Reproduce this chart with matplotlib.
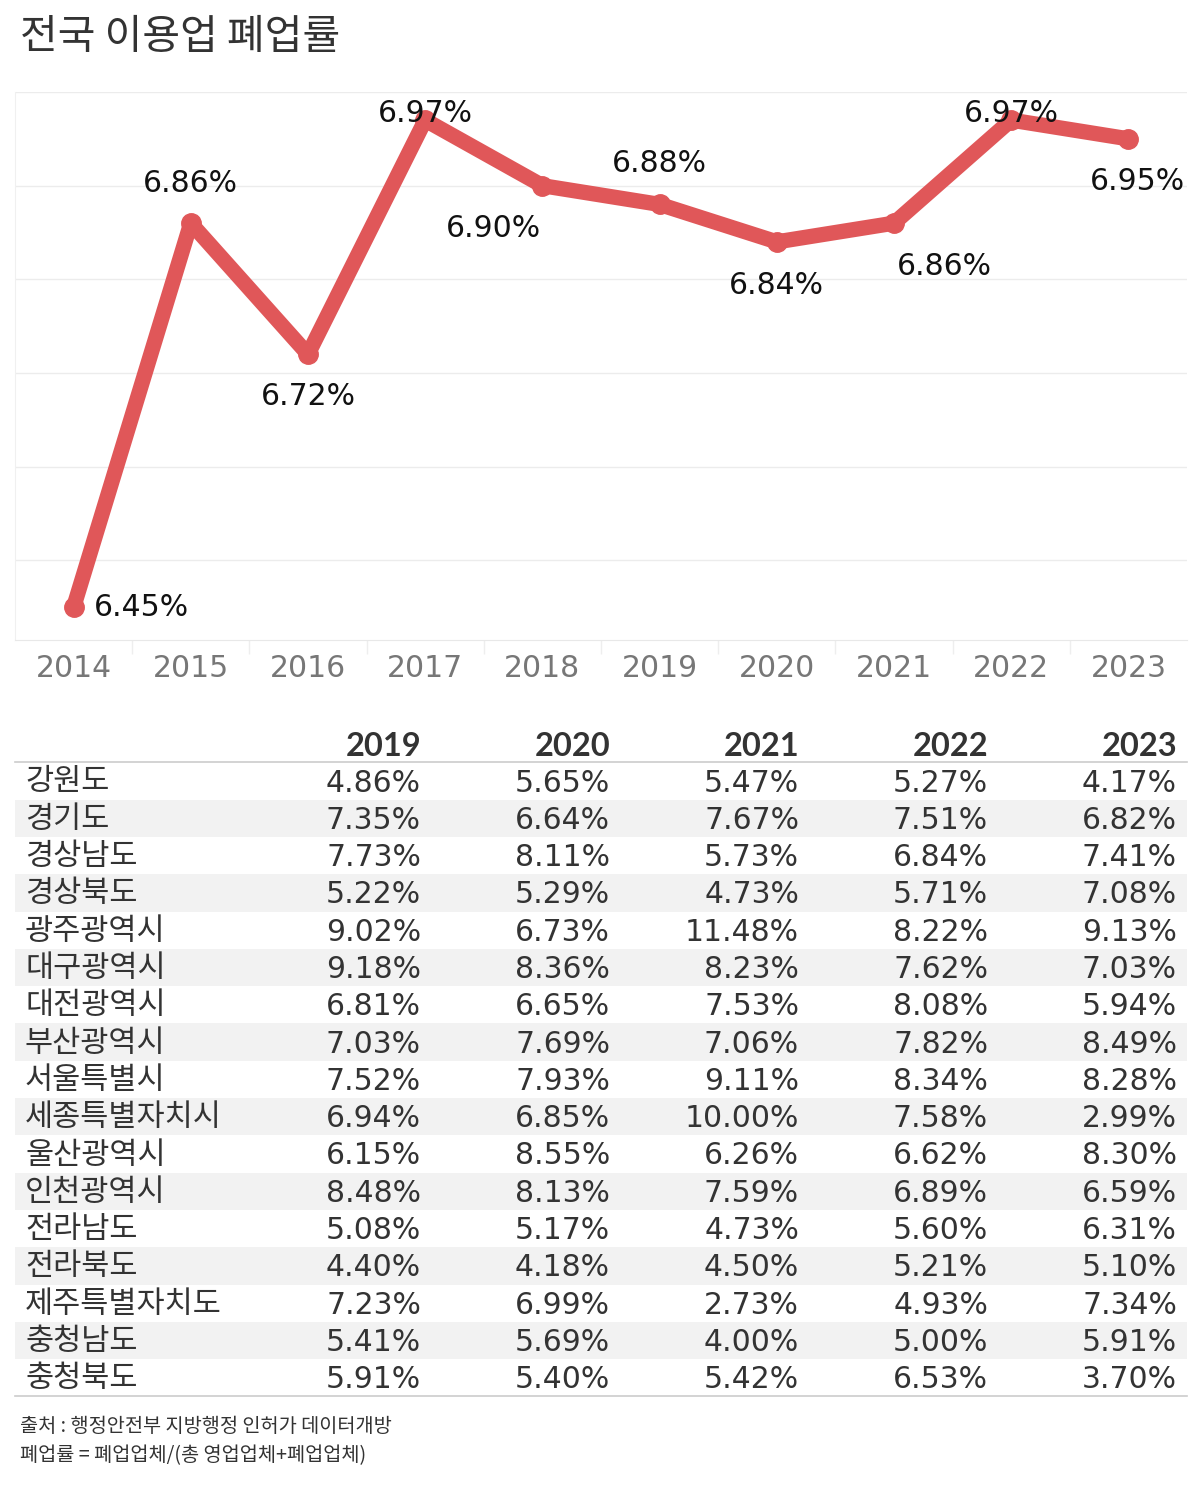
import matplotlib
matplotlib.use('Agg')
import matplotlib.pyplot as plt

plt.rcParams['font.family'] = ['DejaVu Sans', 'Noto Sans CJK KR']

# line chart data
years = [2014, 2015, 2016, 2017, 2018, 2019, 2020, 2021, 2022, 2023]
rates = [6.45, 6.86, 6.72, 6.97, 6.90, 6.88, 6.84, 6.86, 6.97, 6.95]
# label offsets in pixels (dx, dy, ha)
label_pos = [(20, 0, 'left'), (0, 40, 'center'), (0, -42, 'center'), (0, 7, 'center'),
             (-49, -43, 'center'), (0, 41, 'center'), (0, -44, 'center'), (50, -43, 'center'),
             (0, 7, 'center'), (9, -43, 'center')]

# table data
tbl_years = ['2019', '2020', '2021', '2022', '2023']
regions = ['강원도', '경기도', '경상남도', '경상북도', '광주광역시', '대구광역시', '대전광역시',
           '부산광역시', '서울특별시', '세종특별자치시', '울산광역시', '인천광역시', '전라남도',
           '전라북도', '제주특별자치도', '충청남도', '충청북도']
v2019 = [4.86, 7.35, 7.73, 5.22, 9.02, 9.18, 6.81, 7.03, 7.52, 6.94, 6.15, 8.48, 5.08, 4.40, 7.23, 5.41, 5.91]
v2020 = [5.65, 6.64, 8.11, 5.29, 6.73, 8.36, 6.65, 7.69, 7.93, 6.85, 8.55, 8.13, 5.17, 4.18, 6.99, 5.69, 5.40]
v2021 = [5.47, 7.67, 5.73, 4.73, 11.48, 8.23, 7.53, 7.06, 9.11, 10.00, 6.26, 7.59, 4.73, 4.50, 2.73, 4.00, 5.42]
v2022 = [5.27, 7.51, 6.84, 5.71, 8.22, 7.62, 8.08, 7.82, 8.34, 7.58, 6.62, 6.89, 5.60, 5.21, 4.93, 5.00, 6.53]
v2023 = [4.17, 6.82, 7.41, 7.08, 9.13, 7.03, 5.94, 8.49, 8.28, 2.99, 8.30, 6.59, 6.31, 5.10, 7.34, 5.91, 3.70]
columns = [v2019, v2020, v2021, v2022, v2023]

W, H = 1200, 1487
fig = plt.figure(figsize=(W / 100, H / 100), dpi=100)

def fx(x):
    return x / W

def fy(y):
    return 1 - y / H

kr = ['Noto Sans CJK KR']

# title
fig.text(fx(20), fy(38), '전국 이용업 폐업률', fontsize=29.5, color='#333333',
         ha='left', va='center', family=kr)

# line chart
ax = fig.add_axes([fx(15), fy(640), fx(1172), 548 / H])
ax.set_xlim(2013.5, 2023.5)
ax.set_ylim(6.415, 7.0)
red = '#e05759'
ax.plot(years, rates, color=red, lw=11, solid_capstyle='round', solid_joinstyle='round',
        marker='o', markersize=14, zorder=3)
for x, v, (dx, dy, ha) in zip(years, rates, label_pos):
    ax.annotate(f'{v:.2f}%', (x, v), xytext=(dx, dy), textcoords='offset pixels',
                ha=ha, va='center', fontsize=21.5, color='#111111', zorder=4)
ax.set_yticks([6.5, 6.6, 6.7, 6.8, 6.9, 7.0])
ax.yaxis.grid(True, color='#ececec', lw=1)
ax.tick_params(axis='y', left=False, labelleft=False)
ax.set_xticks(years)
ax.set_xticklabels([str(y) for y in years], fontsize=21.5, color='#777777')
ax.tick_params(axis='x', length=0, pad=10)
ax.set_xticks([y + 0.5 for y in years[:-1]], minor=True)
ax.tick_params(axis='x', which='minor', length=10, color='#eeeeee', width=1)
for s in ['top', 'right']:
    ax.spines[s].set_visible(False)
ax.spines['left'].set_color('#f0f0f0')
ax.spines['bottom'].set_color('#e8e8e8')

# table
col_x = [421, 610, 799, 988, 1177]
for cx, yr in zip(col_x, tbl_years):
    fig.text(fx(cx), fy(747), yr, fontsize=23.5, fontweight='bold', color='#333333',
             ha='right', va='center', family=['Lato'])
fig.add_artist(plt.Line2D([fx(15), fx(1187)], [fy(762), fy(762)], color='#cccccc', lw=1.2))

row0 = 781
dy_row = 37.3
for i, name in enumerate(regions):
    yc = row0 + i * dy_row
    if i % 2 == 1:
        fig.add_artist(plt.Rectangle((fx(15), fy(yc + dy_row / 2)), fx(1172), dy_row / H,
                                     color='#f2f2f2', lw=0, zorder=0))
    fig.text(fx(25), fy(yc + 1), name, fontsize=22, color='#333333', ha='left', va='center',
             family=kr)
    for cx, col in zip(col_x, columns):
        fig.text(fx(cx), fy(yc + 2), f'{col[i]:.2f}%', fontsize=21.5, color='#333333',
                 ha='right', va='center')
fig.add_artist(plt.Line2D([fx(15), fx(1187)], [fy(1396), fy(1396)], color='#cccccc', lw=1.2))

# footnote
fig.text(fx(20), fy(1427), '출처 : 행정안전부 지방행정 인허가 데이터개방', fontsize=14.2,
         color='#333333', ha='left', va='center', family=kr)
fig.text(fx(20), fy(1456), '폐업률 = 폐업업체/(총 영업업체+폐업업체)', fontsize=14.2,
         color='#333333', ha='left', va='center', family=kr)

fig.savefig('out.png', dpi=100, facecolor='white')
